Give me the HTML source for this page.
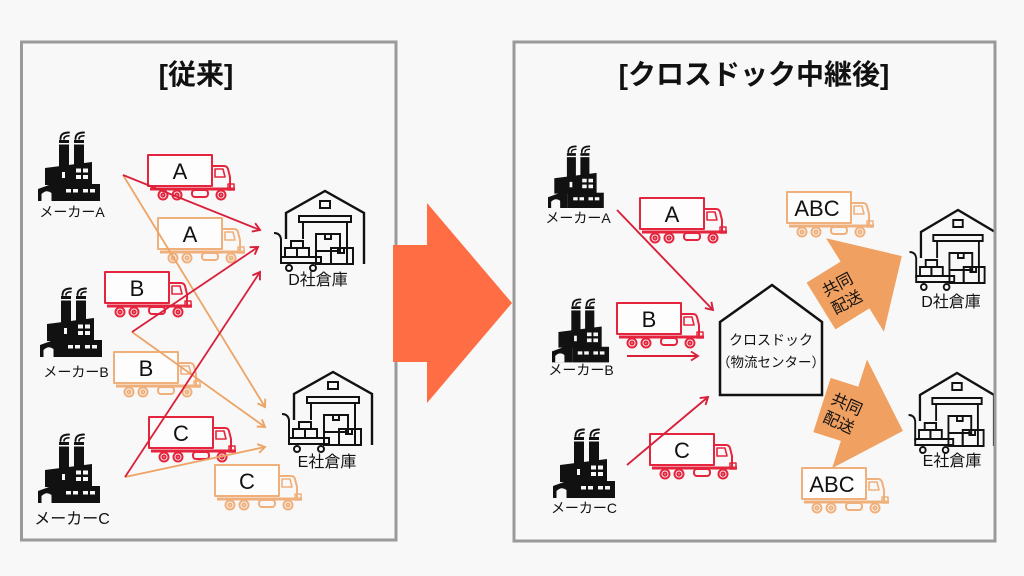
<!DOCTYPE html>
<html><head><meta charset="utf-8">
<style>
html,body{margin:0;padding:0;background:#f8f8f8;}
svg{display:block;}
text{font-family:"Liberation Sans","Noto Sans CJK JP",sans-serif;fill:#111;}
</style></head><body>
<svg width="1024" height="576" viewBox="0 0 1024 576" xmlns="http://www.w3.org/2000/svg">
<defs>
 <g id="truck" fill="none" stroke-width="2" stroke-linejoin="round">
  <rect x="0" y="0" width="64" height="31" fill="#fdfdfd"/>
  <path d="M64 11 H76 Q79 11 80 14 L82 22 V33"/>
  <path d="M67 14 H75 L77 22 H67 Z" stroke-width="1.6"/>
  <path d="M2 34 H87" stroke-width="3"/>
  <rect x="44" y="35" width="16" height="7" rx="3" fill="#f8f8f8"/>
  <rect x="80" y="29" width="6" height="6" stroke-width="1.5"/>
  <circle cx="15" cy="40" r="4.5" fill="#f8f8f8"/><circle cx="15" cy="40" r="1.6"/>
  <circle cx="29" cy="40" r="4.5" fill="#f8f8f8"/><circle cx="29" cy="40" r="1.6"/>
  <circle cx="73" cy="40" r="4.5" fill="#f8f8f8"/><circle cx="73" cy="40" r="1.6"/>
 </g>
 <g id="factory">
  <g fill="none" stroke="#111" stroke-linecap="round">
   <path d="M22.5 8 Q22.5 1.5 31 1.5" stroke-width="1.9"/>
   <path d="M26 8 Q26 4.8 31 4.8" stroke-width="1.6"/>
   <path d="M37.5 8 Q37.5 1.5 46 1.5" stroke-width="1.9"/>
   <path d="M41 8 Q41 4.8 46 4.8" stroke-width="1.6"/>
  </g>
  <g fill="#111">
   <rect x="21" y="9" width="10" height="3"/>
   <rect x="21" y="13.5" width="10" height="22"/>
   <rect x="36" y="9" width="10" height="3"/>
   <rect x="36" y="13.5" width="10" height="22"/>
   <path d="M7 37 L54 31 V54 H7 Z"/>
   <rect x="22" y="53" width="40" height="17"/>
   <path d="M0 58 L22 50 V70 H0 Z"/>
  </g>
  <g fill="#f8f8f8">
   <rect x="38" y="37.5" width="5" height="4"/><rect x="45" y="37.5" width="5" height="4"/>
   <rect x="38" y="44" width="5" height="4"/><rect x="45" y="44" width="5" height="4"/>
   <rect x="24" y="41" width="3" height="6"/>
   <rect x="28" y="58" width="5" height="3.5"/><rect x="35" y="58" width="5" height="3.5"/>
   <rect x="45" y="58" width="5" height="3.5"/><rect x="52" y="58" width="5" height="3.5"/>
   <path d="M3.5 70 V63 Q8.5 58 13.5 62 V70 Z"/>
  </g>
 </g>
 <g id="wh" fill="none" stroke="#111" stroke-width="2.4">
  <path d="M15 58 V32 L54 10 L93 32 V83"/>
  <rect x="49" y="20" width="10" height="7" stroke-width="2"/>
  <rect x="28" y="35" width="52" height="6" stroke-width="2"/>
  <path d="M32 41 V58 M76 41 V83" stroke-width="2"/>
  <g stroke-width="2">
   <rect x="45" y="53" width="24" height="17"/>
   <rect x="54" y="53" width="6" height="5"/>
   <rect x="60" y="67" width="22" height="16"/>
   <rect x="67" y="67" width="6" height="5"/>
   <rect x="45" y="70" width="15" height="13"/>
   <path d="M3 52 Q9 52 10 58 V78"/>
   <rect x="10" y="76" width="40" height="6"/>
   <circle cx="18" cy="87" r="3"/>
   <circle cx="42" cy="87" r="3"/>
   <rect x="14" y="67" width="12" height="9"/>
   <rect x="26" y="67" width="12" height="9"/>
   <rect x="20" y="60" width="12" height="7"/>
  </g>
 </g>
 <marker id="mr" markerWidth="12" markerHeight="12" refX="9" refY="6" orient="auto" markerUnits="userSpaceOnUse">
  <path d="M2 1.5 L9 6 L2 10.5" fill="none" stroke="#d9203a" stroke-width="1.9"/>
 </marker>
 <marker id="mo" markerWidth="12" markerHeight="12" refX="9" refY="6" orient="auto" markerUnits="userSpaceOnUse">
  <path d="M2 1.5 L9 6 L2 10.5" fill="none" stroke="#eda466" stroke-width="1.9"/>
 </marker>
</defs>

<rect x="0" y="0" width="1024" height="576" fill="#f8f8f8"/>

<!-- panels -->
<rect x="21.5" y="42" width="374.5" height="498" fill="#f8f8f8" stroke="#9a9a9a" stroke-width="3"/>
<rect x="514" y="42" width="481" height="499" fill="#f8f8f8" stroke="#9a9a9a" stroke-width="3"/>

<!-- titles -->
<text x="196" y="84" font-size="28" font-weight="bold" text-anchor="middle">[従来]</text>
<text x="754" y="84" font-size="28" font-weight="bold" text-anchor="middle">[クロスドック中継後]</text>

<!-- LEFT factories -->
<use href="#factory" x="38" y="131"/>
<use href="#factory" x="40" y="287"/>
<use href="#factory" x="38" y="433"/>
<text x="72" y="217" font-size="14" text-anchor="middle">メーカーA</text>
<text x="76" y="377" font-size="14" text-anchor="middle">メーカーB</text>
<text x="72" y="524" font-size="16" text-anchor="middle">メーカーC</text>

<!-- LEFT warehouses -->
<use href="#wh" x="271" y="181"/>
<use href="#wh" x="279" y="362"/>
<text x="318" y="285" font-size="16" text-anchor="middle">D社倉庫</text>
<text x="327" y="467" font-size="16" text-anchor="middle">E社倉庫</text>

<!-- LEFT trucks -->
<use href="#truck" x="148" y="155" stroke="#e5253d"/>
<use href="#truck" x="158" y="218" stroke="#f0b07c"/>
<use href="#truck" x="105" y="272" stroke="#e5253d"/>
<use href="#truck" x="114" y="352" stroke="#f0b07c"/>
<use href="#truck" x="149" y="417" stroke="#e5253d"/>
<use href="#truck" x="215" y="465" stroke="#f0b07c"/>
<g font-size="22" text-anchor="middle">
 <text x="180" y="179">A</text>
 <text x="190" y="242">A</text>
 <text x="137" y="296">B</text>
 <text x="146" y="376">B</text>
 <text x="181" y="441">C</text>
 <text x="247" y="489">C</text>
</g>

<!-- LEFT connectors -->
<g fill="none" stroke-width="1.8">
 <line x1="123" y1="175" x2="265" y2="407" stroke="#eda466" marker-end="url(#mo)"/>
 <line x1="132" y1="332" x2="265" y2="427" stroke="#eda466" marker-end="url(#mo)"/>
 <line x1="125" y1="477" x2="265" y2="447" stroke="#eda466" marker-end="url(#mo)"/>
 <line x1="123" y1="175" x2="260" y2="230" stroke="#d9203a" marker-end="url(#mr)"/>
 <line x1="132" y1="332" x2="258" y2="247" stroke="#d9203a" marker-end="url(#mr)"/>
 <line x1="125" y1="477" x2="260" y2="272" stroke="#d9203a" marker-end="url(#mr)"/>
</g>

<!-- big arrow -->
<polygon points="393,245 427,245 427,203 512,303 427,403 427,362 393,362" fill="#ff6d44"/>

<!-- RIGHT factories -->
<use href="#factory" transform="translate(548 145) scale(0.9)"/>
<use href="#factory" transform="translate(552 298) scale(0.92)"/>
<use href="#factory" x="553" y="428"/>
<text x="578" y="223" font-size="14" text-anchor="middle">メーカーA</text>
<text x="581" y="375" font-size="14" text-anchor="middle">メーカーB</text>
<text x="584" y="513" font-size="14" text-anchor="middle">メーカーC</text>

<!-- crossdock -->
<polygon points="772,285 822,322 822,395 720,395 720,322" fill="#f8f8f8" stroke="#111" stroke-width="2.5" stroke-linejoin="miter"/>
<text x="771" y="345" font-size="14" text-anchor="middle">クロスドック</text>
<text x="771" y="367" font-size="13.5" text-anchor="middle">（物流センター）</text>

<!-- RIGHT trucks -->
<use href="#truck" x="640" y="198" stroke="#e5253d"/>
<use href="#truck" x="617" y="303" stroke="#e5253d"/>
<use href="#truck" x="650" y="434" stroke="#e5253d"/>
<use href="#truck" x="787" y="192" stroke="#f0b07c"/>
<use href="#truck" x="802" y="468" stroke="#f0b07c"/>
<g font-size="22" text-anchor="middle">
 <text x="672" y="222">A</text>
 <text x="649" y="327">B</text>
 <text x="682" y="458">C</text>
 <text x="817" y="216">ABC</text>
 <text x="832" y="492">ABC</text>
</g>

<!-- RIGHT connectors -->
<g fill="none" stroke="#d9203a" stroke-width="1.9">
 <line x1="617" y1="210" x2="713" y2="310" marker-end="url(#mr)"/>
 <line x1="627" y1="356" x2="698" y2="356" marker-end="url(#mr)"/>
 <line x1="627" y1="465" x2="708" y2="397" marker-end="url(#mr)"/>
</g>

<!-- co-delivery arrows -->
<polygon points="806.6,282.6 840.6,261.6 826.1,238.2 901.8,256.1 883.9,331.8 869.4,308.4 835.4,329.4" fill="#f0a060"/>
<polygon points="830.7,377.9 858.3,386.7 867,359.5 902.9,430.9 832.2,468.1 840.9,440.9 813.3,432.1" fill="#f0a060"/>
<g transform="translate(842 293) rotate(-28)" font-size="16" text-anchor="middle">
 <text x="0" y="-4">共同</text>
 <text x="0" y="16">配送</text>
</g>
<g transform="translate(843 413) rotate(24)" font-size="16" text-anchor="middle">
 <text x="0" y="-4">共同</text>
 <text x="0" y="16">配送</text>
</g>

<!-- RIGHT warehouses -->
<use href="#wh" transform="translate(906.7 200) scale(0.95 1)"/>
<use href="#wh" transform="translate(905.7 363) scale(0.95 1)"/>
<text x="951" y="307" font-size="16" text-anchor="middle">D社倉庫</text>
<text x="952" y="466" font-size="16" text-anchor="middle">E社倉庫</text>

<!-- redraw right panel right border over warehouses -->
<line x1="995" y1="40.5" x2="995" y2="542.5" stroke="#9a9a9a" stroke-width="3"/>
</svg>
</body></html>
